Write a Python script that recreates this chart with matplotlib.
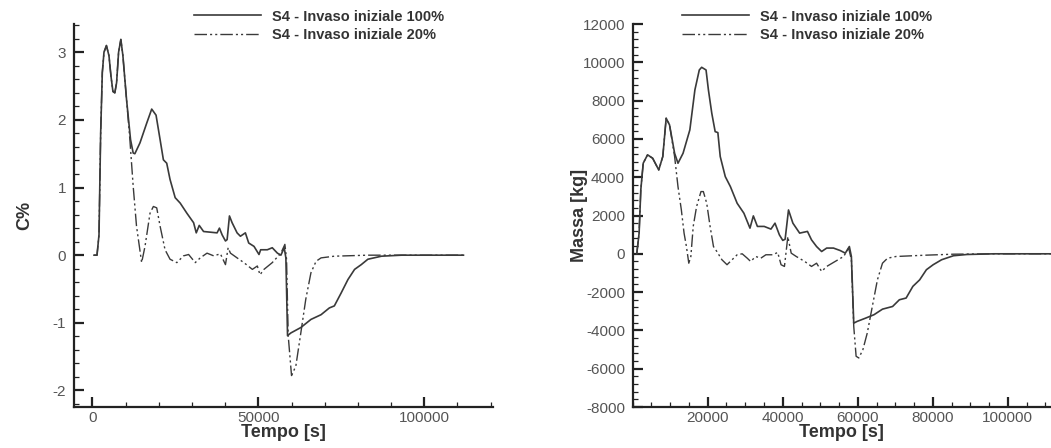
import matplotlib
matplotlib.use("Agg")
import matplotlib.pyplot as plt
from matplotlib.ticker import MultipleLocator

plt.rcParams["font.family"] = ["Liberation Sans", "DejaVu Sans"]
plt.rcParams["axes.unicode_minus"] = False

LABEL_100 = "S4 - Invaso iniziale 100%"
LABEL_20 = "S4 - Invaso iniziale 20%"

# C% - Invaso iniziale 100%
c100_t = [500, 1400, 2000, 2500, 3000, 3500, 4240, 5000, 5600, 6200, 6770, 7300, 7900,
          8585, 9200, 10300, 11500, 12300, 12800, 14340, 16360, 17880, 19190, 20400,
          21400, 22400, 23400, 24950, 26460, 28480, 30500, 31300, 32200, 33500, 35550,
          37570, 38280, 39100, 40100, 40600, 41300, 42100, 43600, 44600, 46100, 47100,
          48700, 50200, 50700, 52700, 54200, 55750, 56800, 57800, 58300, 58800, 59800,
          62800, 65850, 68900, 71400, 72900, 74940, 77000, 79000, 81000, 83000, 87100,
          93100, 111800]
c100_v = [0.0, 0.0, 0.3, 1.8, 2.7, 3.0, 3.10, 2.95, 2.65, 2.42, 2.40, 2.55, 3.0,
          3.19, 2.95, 2.30, 1.71, 1.51, 1.50, 1.66, 1.95, 2.16, 2.07, 1.71,
          1.41, 1.36, 1.12, 0.85, 0.77, 0.62, 0.48, 0.33, 0.44, 0.35, 0.34,
          0.33, 0.40, 0.30, 0.21, 0.23, 0.58, 0.48, 0.33, 0.28, 0.33, 0.18,
          0.13, 0.01, 0.08, 0.08, 0.11, 0.03, 0.0, 0.11, -0.04, -1.19, -1.15,
          -1.07, -0.95, -0.88, -0.78, -0.75, -0.56, -0.36, -0.21, -0.14, -0.06, -0.015,
          0.0, 0.0]

# C% - Invaso iniziale 20%
c20_t = [500, 1400, 2000, 2500, 3000, 3500, 4240, 5000, 5600, 6200, 6770, 7300, 7900,
         8585, 9200, 10300, 11300, 12300, 13300, 14850, 15860, 17370, 18380, 19390,
         20400, 21900, 23400, 25450, 27470, 29000, 31000, 32500, 34540, 36560, 38580,
         40100, 40900, 41600, 43600, 45650, 48200, 49700, 50500, 51700, 54200, 56800,
         58000, 58500, 59000, 60000, 61300, 62800, 64300, 65850, 67400, 68900, 72900,
         83000, 111800]
c20_v = [0.0, 0.0, 0.3, 1.8, 2.7, 3.0, 3.10, 2.95, 2.65, 2.42, 2.40, 2.55, 3.0,
         3.19, 2.95, 2.30, 1.71, 1.02, 0.43, -0.11, 0.13, 0.62, 0.72, 0.70,
         0.43, 0.08, -0.06, -0.11, -0.01, 0.01, -0.11, -0.04, 0.03, -0.01, 0.02,
         -0.14, 0.11, 0.03, -0.04, -0.11, -0.21, -0.16, -0.29, -0.21, -0.11, 0.03,
         0.16, -0.06, -1.19, -1.78, -1.64, -1.15, -0.65, -0.26, -0.09, -0.04, -0.015,
         0.0, 0.0]

# Massa [kg] - Invaso iniziale 100%
m100_t = [1080, 1710, 2160, 2800, 3960, 5320, 6940, 8020, 8920, 9820, 11170, 12070,
          13420, 15230, 16580, 17750, 18380, 19550, 20180, 21080, 21980, 22700, 23330,
          24680, 26040, 27840, 29640, 31260, 32160, 33240, 35050, 36850, 37930, 39100,
          40000, 40630, 41530, 42700, 44500, 46580, 47660, 49010, 50360, 51710, 53510,
          55320, 56670, 57750, 58290, 58920, 59820, 62070, 64320, 66580, 69280, 71080,
          72880, 74680, 76490, 78290, 80090, 82340, 85500, 89100, 96300, 112000]
m100_v = [0, 1080, 3340, 4730, 5170, 4990, 4380, 5080, 7080, 6730, 5250, 4730,
          5250, 6470, 8560, 9600, 9740, 9600, 8560, 7340, 6380, 6330, 5080,
          4030, 3510, 2640, 2120, 1340, 1980, 1430, 1430, 1290, 1600, 990,
          700, 760, 2290, 1600, 1080, 1170, 730, 380, 120, 300, 300,
          170, 35, 380, -140, -3620, -3530, -3360, -3180, -2890, -2750, -2400,
          -2310, -1700, -1360, -830, -570, -310, -100, -35, 0, 0]

# Massa [kg] - Invaso iniziale 20%
m20_t = [1080, 1710, 2160, 2800, 3960, 5320, 6940, 8020, 8920, 9820, 11170, 12070,
         12970, 13690, 14320, 14950, 15500, 16130, 17030, 18200, 18830, 19730, 20630,
         21530, 22430, 23780, 25140, 26490, 27840, 29190, 30540, 31440, 32790, 34140,
         35500, 37300, 38650, 39550, 40450, 41350, 42250, 43600, 45860, 47660, 49010,
         50360, 51710, 53960, 56220, 57570, 58290, 58920, 59550, 60270, 61350, 62520,
         63870, 65230, 66580, 67930, 70180, 78290, 85500, 96300, 112000]
m20_v = [0, 1080, 3340, 4730, 5170, 4990, 4380, 5080, 7080, 6730, 5080, 3510,
         2290, 1080, 380, -490, -140, 1430, 2470, 3250, 3250, 2640, 1430,
         380, 120, -310, -570, -310, -50, 0, -230, -400, -140, -230,
         -50, -50, 70, -570, -660, 900, 35, -140, -400, -660, -490,
         -920, -660, -400, -140, 300, -310, -3790, -5350, -5440, -5010, -4140,
         -2750, -1360, -490, -230, -140, -70, -20, 0, 0]

LINE_COLOR = "#3a3a3a"
TEXT_COLOR = "#333333"
TICK_COLOR = "#555555"
DASH = (0, (9, 2.2, 1.5, 2.2, 1.5, 2.2))


def style_axes(ax):
    for side in ("top", "right"):
        ax.spines[side].set_visible(False)
    for side in ("left", "bottom"):
        ax.spines[side].set_linewidth(1.6)
        ax.spines[side].set_color("#222222")
    ax.tick_params(which="both", direction="in", colors="#222222",
                   labelcolor=TICK_COLOR, labelsize=11)
    ax.tick_params(axis="x", pad=3)
    ax.tick_params(axis="y", pad=5.5)
    ax.tick_params(which="major", length=7, width=1.6)
    ax.tick_params(which="minor", length=3.6, width=0.9)


fig = plt.figure(figsize=(10.51, 4.48), dpi=100)

# Left panel: C%
ax1 = fig.add_axes([0.0700, 0.0915, 0.3994, 0.8549])
ax1.plot(c100_t, c100_v, color=LINE_COLOR, lw=1.2, label=LABEL_100)
ax1.plot(c20_t, c20_v, color=LINE_COLOR, lw=1.0, ls=DASH, label=LABEL_20)
ax1.set_xlim(-5660, 120800)
ax1.set_ylim(-2.245, 3.418)
ax1.xaxis.set_major_locator(MultipleLocator(50000))
ax1.xaxis.set_minor_locator(MultipleLocator(10000))
ax1.yaxis.set_major_locator(MultipleLocator(1))
ax1.yaxis.set_minor_locator(MultipleLocator(0.2))
style_axes(ax1)
ax1.set_xlabel("Tempo [s]", fontsize=13, fontweight="bold", color=TEXT_COLOR, labelpad=-1)
ax1.set_ylabel("C%", fontsize=13, fontweight="bold", color=TEXT_COLOR, labelpad=14)
ax1.legend(loc="upper left", bbox_to_anchor=(0.256, 1.072), frameon=False,
           handlelength=4.6, handletextpad=0.75, labelspacing=0.3,
           prop={"weight": "bold", "size": 10.5}, labelcolor=TEXT_COLOR)

# Right panel: Massa
ax2 = fig.add_axes([0.6020, 0.0915, 0.3980, 0.8549])
ax2.plot(m100_t, m100_v, color=LINE_COLOR, lw=1.2, label=LABEL_100)
ax2.plot(m20_t, m20_v, color=LINE_COLOR, lw=1.0, ls=DASH, label=LABEL_20)
ax2.set_xlim(0, 111500)
ax2.set_ylim(-8000, 12000)
ax2.xaxis.set_major_locator(MultipleLocator(20000))
ax2.xaxis.set_minor_locator(MultipleLocator(5000))
ax2.yaxis.set_major_locator(MultipleLocator(2000))
ax2.yaxis.set_minor_locator(MultipleLocator(400))
style_axes(ax2)
ax2.set_xticks([20000, 40000, 60000, 80000, 100000])
ax2.set_xlabel("Tempo [s]", fontsize=13, fontweight="bold", color=TEXT_COLOR, labelpad=-1)
ax2.set_ylabel("Massa [kg]", fontsize=13, fontweight="bold", color=TEXT_COLOR, labelpad=-4)
ax2.legend(loc="upper left", bbox_to_anchor=(0.0857, 1.072), frameon=False,
           handlelength=4.6, handletextpad=0.75, labelspacing=0.3,
           prop={"weight": "bold", "size": 10.5}, labelcolor=TEXT_COLOR)

fig.savefig("out.png", dpi=100, facecolor="white")
plt.close(fig)
